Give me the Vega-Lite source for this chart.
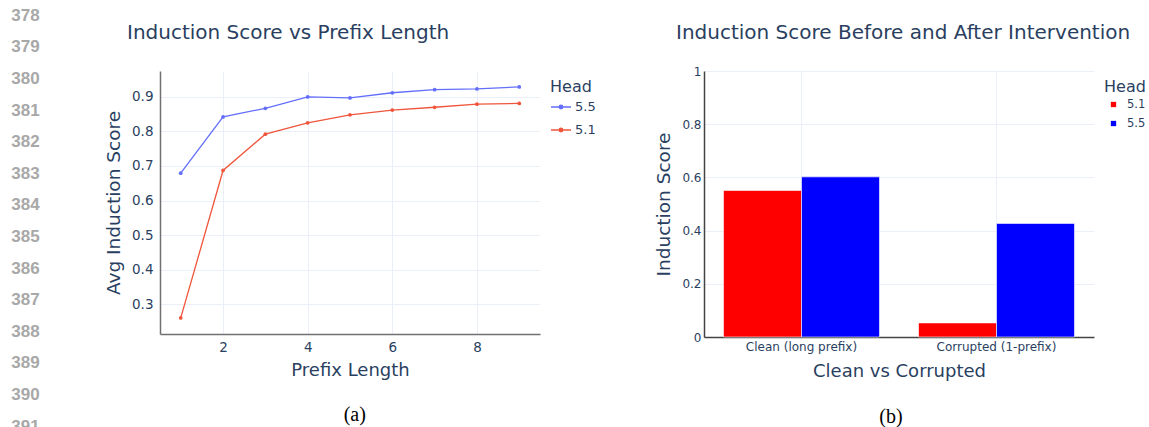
{
  "$schema": "https://vega.github.io/schema/vega-lite/v6.json",
  "padding": 0,
  "background": "white",
  "datasets": {
    "linenos": [
      {"line": 378}, {"line": 379}, {"line": 380}, {"line": 381}, {"line": 382}, {"line": 383}, {"line": 384},
      {"line": 385}, {"line": 386}, {"line": 387}, {"line": 388}, {"line": 389}, {"line": 390}, {"line": 391}
    ],
    "lines": [
      {"prefix_length": 1, "head": "5.5", "score": 0.679},
      {"prefix_length": 2, "head": "5.5", "score": 0.842},
      {"prefix_length": 3, "head": "5.5", "score": 0.867},
      {"prefix_length": 4, "head": "5.5", "score": 0.900},
      {"prefix_length": 5, "head": "5.5", "score": 0.897},
      {"prefix_length": 6, "head": "5.5", "score": 0.912},
      {"prefix_length": 7, "head": "5.5", "score": 0.921},
      {"prefix_length": 8, "head": "5.5", "score": 0.923},
      {"prefix_length": 9, "head": "5.5", "score": 0.929},
      {"prefix_length": 1, "head": "5.1", "score": 0.260},
      {"prefix_length": 2, "head": "5.1", "score": 0.687},
      {"prefix_length": 3, "head": "5.1", "score": 0.792},
      {"prefix_length": 4, "head": "5.1", "score": 0.825},
      {"prefix_length": 5, "head": "5.1", "score": 0.848},
      {"prefix_length": 6, "head": "5.1", "score": 0.862},
      {"prefix_length": 7, "head": "5.1", "score": 0.870},
      {"prefix_length": 8, "head": "5.1", "score": 0.879},
      {"prefix_length": 9, "head": "5.1", "score": 0.881}
    ],
    "bars": [
      {"condition": "Clean (long prefix)", "head": "5.1", "score": 0.551},
      {"condition": "Clean (long prefix)", "head": "5.5", "score": 0.602},
      {"condition": "Corrupted (1-prefix)", "head": "5.1", "score": 0.053},
      {"condition": "Corrupted (1-prefix)", "head": "5.5", "score": 0.427}
    ]
  },
  "spacing": 53,
  "hconcat": [
    {
      "width": 51,
      "height": 356,
      "data": {"name": "linenos"},
      "layer": [
        {
          "transform": [{"filter": "datum.line < 391"}],
          "mark": {"type": "text", "font": "Liberation Sans", "fontWeight": "bold", "fontSize": 17, "color": "#a8a8a8", "clip": false, "baseline": "middle", "align": "center"},
          "encoding": {
            "y": {"field": "line", "type": "quantitative", "scale": {"domain": [379.744, 391.01], "reverse": true, "nice": false, "zero": false}, "axis": null},
            "text": {"field": "line", "type": "quantitative", "format": "d"}
          }
        },
        {
          "transform": [{"filter": "datum.line >= 391"}],
          "mark": {"type": "text", "font": "Liberation Sans", "fontWeight": "bold", "fontSize": 17, "color": "#a8a8a8", "clip": true, "baseline": "middle", "align": "center"},
          "encoding": {
            "y": {"field": "line", "type": "quantitative", "axis": null},
            "text": {"field": "line", "type": "quantitative", "format": "d"}
          }
        }
      ]
    },
    {
      "title": {"text": "(a)", "orient": "bottom", "anchor": "middle", "font": "Liberation Serif", "fontSize": 20, "fontWeight": "normal", "color": "#000000", "offset": 25, "dx": 2},
      "vconcat": [
        {
          "width": 380,
          "height": 263,
          "title": {"text": ["", "Induction Score vs Prefix Length"], "anchor": "start", "frame": "group", "dx": -33, "offset": 28, "fontSize": 20, "lineHeight": 22.6, "font": "DejaVu Sans", "fontWeight": "normal", "color": "#2a3f5f"},
          "data": {"name": "lines"},
          "mark": {"type": "line", "strokeWidth": 1.3, "point": {"filled": true, "size": 14}},
          "encoding": {
            "x": {"field": "prefix_length", "type": "quantitative", "scale": {"domain": [0.51, 9.49], "nice": false, "zero": false},
                  "axis": {"values": [2, 4, 6, 8], "title": "Prefix Length", "labelFontSize": 13.5, "titleFontSize": 18, "labelPadding": 6, "titlePadding": 8, "domainColor": "#707070", "domainWidth": 1.5}},
            "y": {"field": "score", "type": "quantitative", "scale": {"domain": [0.2135, 0.975], "nice": false, "zero": false},
                  "axis": {"values": [0.3, 0.4, 0.5, 0.6, 0.7, 0.8, 0.9], "format": ".1f", "title": "Avg Induction Score", "labelFontSize": 13.5, "titleFontSize": 18.5, "labelPadding": 7, "titlePadding": 8, "domainColor": "#707070", "domainWidth": 1.5}},
            "color": {"field": "head", "type": "nominal", "scale": {"domain": ["5.5", "5.1"], "range": ["#636efa", "#EF553B"]},
                      "legend": {"title": "Head", "orient": "none", "legendX": 385, "legendY": 3, "padding": 5, "titleFontSize": 16, "labelFontSize": 13, "symbolType": "M-1,0H1M-0.18,0A0.18,0.18,0,1,1,0.18,0A0.18,0.18,0,1,1,-0.18,0", "symbolSize": 400, "symbolStrokeWidth": 1.3, "labelOffset": 3, "rowPadding": 5, "titlePadding": 1}}
          }
        }
      ]
    },
    {
      "title": {"text": "(b)", "orient": "bottom", "anchor": "middle", "font": "Liberation Serif", "fontSize": 20, "fontWeight": "normal", "color": "#000000", "offset": 27, "dx": -12},
      "vconcat": [
        {
          "width": 390,
          "height": 266,
          "title": {"text": ["", "Induction Score Before and After Intervention"], "anchor": "start", "frame": "group", "dx": -28, "offset": 22, "fontSize": 20, "lineHeight": 22.6, "font": "DejaVu Sans", "fontWeight": "normal", "color": "#2a3f5f"},
          "data": {"name": "bars"},
          "mark": {"type": "bar", "stroke": "white", "strokeWidth": 0.6},
          "encoding": {
            "x": {"field": "condition", "type": "nominal", "sort": ["Clean (long prefix)", "Corrupted (1-prefix)"], "scale": {"paddingInner": 0.2, "paddingOuter": 0.1},
                  "axis": {"labelAngle": 0, "title": "Clean vs Corrupted", "grid": true, "bandPosition": 0.5, "labelFontSize": 12, "titleFontSize": 18, "labelPadding": 4, "titlePadding": 10, "domainColor": "#444444", "domainWidth": 1.5}},
            "xOffset": {"field": "head", "type": "nominal", "sort": ["5.1", "5.5"], "scale": {"paddingInner": 0, "paddingOuter": 0}},
            "y": {"field": "score", "type": "quantitative", "scale": {"domain": [0, 1], "nice": false},
                  "axis": {"values": [0, 0.2, 0.4, 0.6, 0.8, 1], "format": "~g", "title": "Induction Score", "labelFontSize": 12, "titleFontSize": 18.5, "labelPadding": 3, "titlePadding": 8, "domainColor": "#444444", "domainWidth": 1.5}},
            "color": {"field": "head", "type": "nominal", "scale": {"domain": ["5.1", "5.5"], "range": ["#ff0000", "#0000ff"]},
                      "legend": {"title": "Head", "orient": "none", "legendX": 395, "legendY": 3, "padding": 5, "titleFontSize": 16, "labelFontSize": 11.5, "symbolType": "M-0.28,-0.28H0.28V0.28H-0.28Z", "symbolSize": 361, "symbolStrokeWidth": 0, "labelOffset": 4, "rowPadding": 4, "titlePadding": 0}}
          }
        }
      ]
    }
  ],
  "resolve": {"scale": {"color": "independent", "x": "independent", "y": "independent"}, "legend": {"color": "independent"}},
  "config": {
    "view": {"stroke": null},
    "axis": {"gridColor": "#EBF0F8", "gridWidth": 1, "labelColor": "#2a3f5f", "titleColor": "#2a3f5f", "labelFont": "DejaVu Sans", "titleFont": "DejaVu Sans", "titleFontWeight": "normal", "ticks": false},
    "legend": {"titleFont": "DejaVu Sans", "labelFont": "DejaVu Sans", "titleFontWeight": "normal", "titleColor": "#2a3f5f", "labelColor": "#2a3f5f"}
  }
}
